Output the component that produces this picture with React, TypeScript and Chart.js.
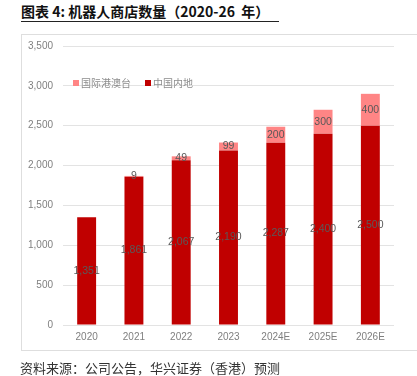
import React, { useEffect, useRef } from "react";
import { Chart, registerables } from "chart.js";

Chart.register(...registerables);

const categories = ["2020", "2021", "2022", "2023", "2024E", "2025E", "2026E"];
const mainland = [1351, 1861, 2067, 2190, 2287, 2400, 2500];
const international = [null, 9, 49, 99, 200, 300, 400];
const seriesNames = ["国际港澳台", "中国内地"];
const seriesColors = ["#FF8585", "#C00000"];
const titleText = "图表 4: 机器人商店数量（2020-26  年）";
const sourceText = "资料来源：公司公告，华兴证券（香港）预测";

const fmt = (v: number) => v.toLocaleString("en-US");

const labelPlugin = {
  id: "barLabels",
  afterDatasetsDraw(chart: any) {
    const ctx = chart.ctx;
    ctx.save();
    ctx.font = "10.5px 'Liberation Sans', Arial, sans-serif";
    ctx.fillStyle = "#595959";
    ctx.textAlign = "center";
    ctx.textBaseline = "middle";
    chart.data.datasets.forEach((ds: any, di: number) => {
      const meta = chart.getDatasetMeta(di);
      meta.data.forEach((el: any, i: number) => {
        const v = ds.data[i];
        if (v == null || v === 0) return;
        const y = (el.y + el.base) / 2;
        ctx.fillText(fmt(v), el.x, y);
      });
    });
    ctx.restore();
  },
};

export default function App() {
  const ref = useRef<HTMLCanvasElement>(null);
  useEffect(() => {
    if (!ref.current) return;
    const chart = new Chart(ref.current, {
      type: "bar",
      data: {
        labels: categories,
        datasets: [
          {
            label: seriesNames[1],
            data: mainland,
            backgroundColor: seriesColors[1],
            barPercentage: 0.4,
            categoryPercentage: 1,
            order: 1,
          },
          {
            label: seriesNames[0],
            data: international as any,
            backgroundColor: seriesColors[0],
            barPercentage: 0.4,
            categoryPercentage: 1,
            order: 2,
          },
        ],
      },
      options: {
        responsive: false,
        animation: false,
        maintainAspectRatio: false,
        layout: { padding: { left: 0, right: 23, top: 46, bottom: 27 } },
        plugins: { legend: { display: false }, tooltip: { enabled: false } },
        scales: {
          x: {
            stacked: true,
            grid: { display: false, drawTicks: false },
            border: { display: false },
            ticks: {
              color: "#7f7f7f",
              font: { size: 10, family: "'Liberation Sans', Arial, sans-serif" },
              padding: 6,
            },
          },
          y: {
            stacked: true,
            min: 0,
            max: 3500,
            grid: { color: "#e3e3e3", lineWidth: 1, drawTicks: false },
            border: { display: false },
            afterFit: (s: any) => {
              s.width = 63;
            },
            ticks: {
              stepSize: 500,
              color: "#7f7f7f",
              padding: 10,
              font: { size: 10, family: "'Liberation Sans', Arial, sans-serif" },
              callback: (v: any) => fmt(Number(v)),
            },
          },
        },
      },
      plugins: [labelPlugin],
    });
    return () => chart.destroy();
  }, []);

  return (
    <div
      style={{
        position: "absolute",
        left: 0,
        top: 0,
        width: 417,
        height: 376,
        overflow: "hidden",
        background: "#fff",
        fontFamily: "'Noto Sans CJK SC', 'Noto Sans', sans-serif",
      }}
    >
      <div
        style={{
          position: "absolute",
          left: 21,
          top: 2,
          width: 258,
          height: 19,
          borderBottom: "1px solid #222",
          fontSize: 14,
          fontWeight: 600,
          color: "#111",
          lineHeight: "19px",
          whiteSpace: "pre",
        }}
      >
        {titleText}
      </div>
      <div
        style={{
          position: "absolute",
          left: 21,
          top: 34,
          width: 410,
          height: 315,
          border: "1px solid #dedede",
        }}
      />
      <canvas
        ref={ref}
        width={417}
        height={376}
        style={{ position: "absolute", left: 0, top: 0, width: 417, height: 376 }}
      />
      <div
        style={{
          position: "absolute",
          left: 73,
          top: 76,
          display: "flex",
          alignItems: "center",
          fontSize: 10,
          color: "#8c8c8c",
          lineHeight: "14px",
          whiteSpace: "nowrap",
        }}
      >
        <span style={{ width: 6, height: 6, background: seriesColors[0], marginRight: 2 }} />
        <span style={{ marginRight: 14 }}>{seriesNames[0]}</span>
        <span style={{ width: 6, height: 6, background: seriesColors[1], marginRight: 2 }} />
        <span>{seriesNames[1]}</span>
      </div>
      <div
        style={{
          position: "absolute",
          left: 20,
          top: 359,
          fontSize: 13,
          color: "#333",
          lineHeight: "17px",
          whiteSpace: "nowrap",
        }}
      >
        {sourceText}
      </div>
    </div>
  );
}
